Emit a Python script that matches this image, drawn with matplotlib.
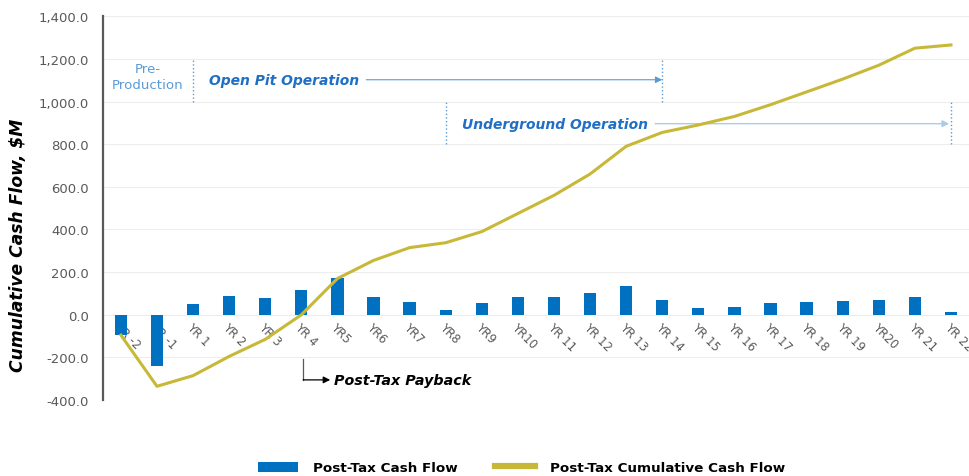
import numpy as np
import matplotlib.pyplot as plt
from matplotlib.ticker import FuncFormatter
from matplotlib.patches import Patch
from matplotlib.lines import Line2D

# data ($M)
years = ['YR -2', 'YR -1', 'YR 1', 'YR 2', 'YR 3', 'YR 4', 'YR5', 'YR6', 'YR7', 'YR8',
         'YR9', 'YR10', 'YR 11', 'YR 12', 'YR 13', 'YR 14', 'YR 15', 'YR 16', 'YR 17',
         'YR 18', 'YR 19', 'YR20', 'YR 21', 'YR 22']
cash_flow = [-95, -240, 50, 90, 78, 117, 173, 85, 60, 22, 55, 85, 85, 100, 135,
             70, 33, 38, 55, 60, 65, 70, 83, 13]
cumulative = [-95, -335, -285, -195, -115, 0, 170, 255, 315, 338, 390, 475, 560,
              660, 790, 855, 890, 930, 985, 1045, 1105, 1170, 1250, 1265]

blue = '#0070C0'
gold = '#C8B838'
light_blue = '#5B9BD5'
grey = '#595959'

plt.rcParams['font.family'] = ['DejaVu Sans']

fig = plt.figure(figsize=(9.7, 4.77), dpi=100)
ax = fig.add_axes([0.106, 0.159, 0.893, 0.805])

x = np.arange(len(years))
ax.bar(x, cash_flow, width=0.34, color=blue, zorder=3)
ax.plot(x, cumulative, color=gold, linewidth=2.2, zorder=4)

ax.set_xlim(-0.5, len(years) - 0.5)
ax.set_ylim(-400, 1400)
ax.set_yticks(range(-400, 1401, 200))
ax.yaxis.set_major_formatter(FuncFormatter(lambda v, p: f'{v:,.1f}'))
ax.grid(axis='y', color='#EDEDED', linewidth=0.8, zorder=0)
ax.tick_params(axis='y', length=0, labelsize=9.5, labelcolor=grey, pad=10)

# x axis through zero
ax.spines['bottom'].set_position(('data', 0))
ax.spines['bottom'].set_visible(False)
ax.spines['top'].set_visible(False)
ax.spines['right'].set_visible(False)
ax.spines['left'].set_color(grey)
ax.spines['left'].set_linewidth(1.6)
ax.set_xticks(x)
ax.set_xticklabels(years, rotation=-45, ha='left', va='top',
                   rotation_mode='anchor', fontsize=8.5, color=grey)
ax.tick_params(axis='x', length=0, pad=4)
ax.annotate('', xy=(len(years) - 0.48, 0), xytext=(-0.5, 0),
            arrowprops=dict(arrowstyle='-|>', color='#262626', lw=1.2,
                            mutation_scale=10, shrinkA=0, shrinkB=0), zorder=5)

ax.set_ylabel('Cumulative Cash Flow, $M', fontsize=12.3, fontweight='bold',
              fontstyle='italic')
ax.yaxis.set_label_coords(-0.087, 0.405)

# phase annotations
ax.text(0.75, 1118, 'Pre-\nProduction', ha='center', va='center', fontsize=9.6,
        color=light_blue, linespacing=1.35)
for xv, y0, y1 in [(2, 1000, 1200), (15, 1000, 1200), (9, 800, 1000), (23, 800, 1000)]:
    ax.plot([xv, xv], [y0, y1], color=light_blue, linestyle=':', linewidth=1.0)

ax.text(2.45, 1102, 'Open Pit Operation', ha='left', va='center', fontsize=10,
        fontweight='bold', fontstyle='italic', color='#1F6FC5')
ax.annotate('', xy=(15, 1102), xytext=(6.8, 1102),
            arrowprops=dict(arrowstyle='-|>', color=light_blue, lw=0.8,
                            mutation_scale=10, shrinkA=0, shrinkB=0))

ax.text(9.45, 896, 'Underground Operation', ha='left', va='center', fontsize=10,
        fontweight='bold', fontstyle='italic', color='#1F6FC5')
ax.annotate('', xy=(22.95, 896), xytext=(14.8, 896),
            arrowprops=dict(arrowstyle='-|>', color='#A9CCEA', lw=1.0,
                            mutation_scale=10, shrinkA=0, shrinkB=0))

# payback marker
ax.plot([5.05, 5.05], [-205, -305], color=grey, linewidth=0.9)
ax.annotate('', xy=(5.8, -305), xytext=(5.05, -305),
            arrowprops=dict(arrowstyle='-|>', color='black', lw=0.9,
                            mutation_scale=10, shrinkA=0, shrinkB=0))
ax.text(5.9, -307, 'Post-Tax Payback', ha='left', va='center', fontsize=10.3,
        fontweight='bold', fontstyle='italic', color='black')

handles = [Patch(facecolor=blue), Line2D([0], [0], color=gold, linewidth=4.5)]
labels = ['Post-Tax Cash Flow', 'Post-Tax Cumulative Cash Flow']
fig.legend(handles, labels, loc='center', bbox_to_anchor=(0.538, 0.017), ncol=2,
           frameon=False, handlelength=2.95, handleheight=0.8, handletextpad=1.1,
           columnspacing=2.8, prop={'weight': 'bold', 'size': 9.7})

fig.savefig('out.png', dpi=100)
